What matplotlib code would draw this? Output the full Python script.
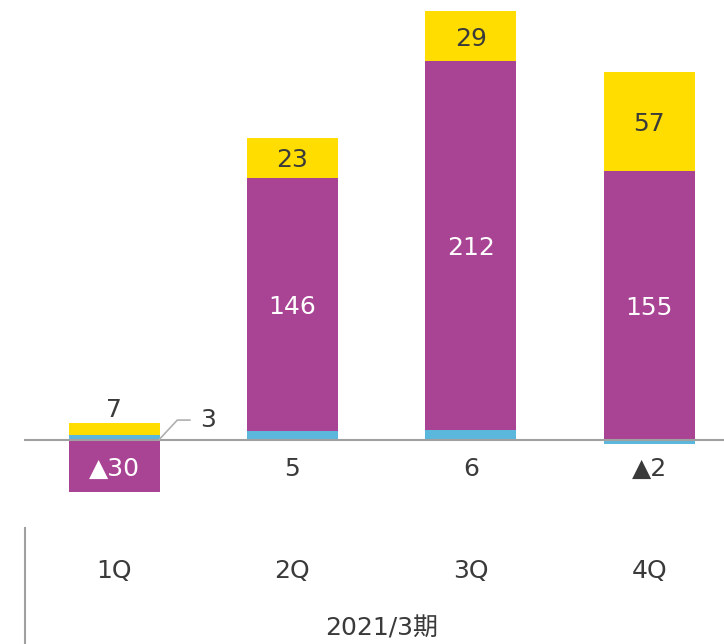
import numpy as np
import matplotlib.pyplot as plt

plt.rcParams['font.family'] = ['DejaVu Sans', 'Noto Sans CJK JP']

quarters = ['1Q', '2Q', '3Q', '4Q']
period = '2021/3期'
cyan_vals = [3, 5, 6, -2]
purple_vals = [-30, 146, 212, 155]
yellow_vals = [7, 23, 29, 57]

c_cyan = '#5BB8DC'
c_purple = '#A94394'
c_yellow = '#FFDD00'
c_text = '#3A3A3A'

fig = plt.figure(figsize=(7.24, 6.44), dpi=100)
ax = fig.add_axes([0, 0, 1, 1])
ax.set_xlim(-0.639, 3.419)
ax.set_ylim(-117.4, 253.3)
ax.axis('off')

x = np.arange(len(quarters))
w = 0.51
pos = np.zeros(len(x))
neg = np.zeros(len(x))
for vals, col in [(cyan_vals, c_cyan), (purple_vals, c_purple), (yellow_vals, c_yellow)]:
    v = np.array(vals, dtype=float)
    bottom = np.where(v >= 0, pos, neg)
    ax.bar(x, v, w, bottom=bottom, color=col, zorder=2)
    pos = pos + np.where(v >= 0, v, 0)
    neg = neg + np.where(v < 0, v, 0)

ax.axhline(0, xmin=25 / 724, xmax=1, color='#A0A0A0', lw=1.5, zorder=3)

def fmt(v):
    return '▲' + str(abs(v)) if v < 0 else str(v)

fs = 18
va = 'center_baseline'
for i in range(len(x)):
    cv, pv, yv = cyan_vals[i], purple_vals[i], yellow_vals[i]
    # purple label
    if pv >= 0:
        py = max(cv, 0) + pv / 2
    else:
        py = min(cv, 0) + pv / 2
    ax.text(x[i], py, fmt(pv), color='white', ha='center', va=va, fontsize=fs, zorder=4)
    # yellow label
    top = pos[i]
    ybot = top - yv
    if yv >= 15:
        ax.text(x[i], ybot + yv / 2, fmt(yv), color=c_text, ha='center', va=va, fontsize=fs, zorder=4)
    else:
        ax.text(x[i], top + 9, fmt(yv), color=c_text, ha='center', va=va, fontsize=fs, zorder=4)
    # cyan label
    if i == 0:
        ax.plot([x[i] + w / 2, x[i] + w / 2 + 0.1, x[i] + w / 2 + 0.17],
                [0.5, 11.5, 11.5], color='#B0B0B0', lw=1.2, zorder=4)
        ax.text(x[i] + w / 2 + 0.27, 13, fmt(cv), color=c_text, ha='center', va=va, fontsize=fs)
    else:
        ax.text(x[i], -15, fmt(cv), color=c_text, ha='center', va=va, fontsize=fs)

for i, q in enumerate(quarters):
    ax.text(x[i], -74, q, color=c_text, ha='center', va=va, fontsize=fs)
ax.text(1.5, -107, period, color=c_text, ha='center', va=va, fontsize=fs)

xv = (25 - 114) / 178.4
ax.plot([xv, xv], [-50.6, -117.4], color='#A0A0A0', lw=1.5, clip_on=False)

fig.savefig('out.png', dpi=100)
